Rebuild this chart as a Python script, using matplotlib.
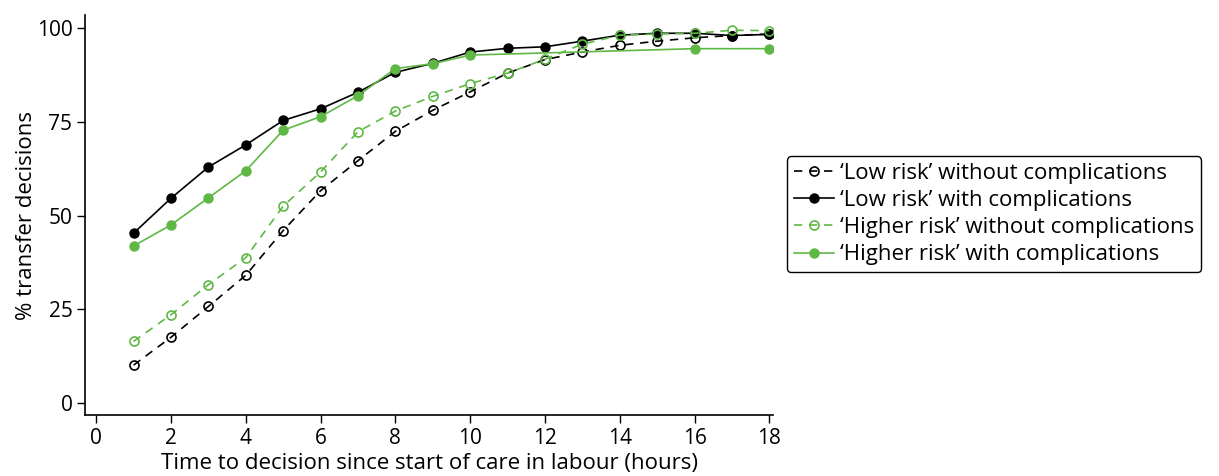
import matplotlib
matplotlib.use("Agg")
import matplotlib.pyplot as plt

hours = [1, 2, 3, 4, 5, 6, 7, 8, 9, 10, 11, 12, 13, 14, 15, 16, 17, 18]
low_without = [10.2, 17.6, 25.8, 34.1, 46.0, 56.6, 64.6, 72.4, 78.0, 82.9,
               87.9, 91.5, 93.5, 95.3, 96.4, 97.3, 97.9, 98.3]
low_with = [45.3, 54.6, 62.9, 68.8, 75.3, 78.4, 82.8, 88.1, 90.5, 93.5,
            94.5, 94.9, 96.4, 98.0, 98.5, 98.5, 97.9, 98.2]
high_without = [16.5, 23.6, 31.6, 38.8, 52.5, 61.6, 72.3, 77.8, 81.7, 85.1,
                87.9, 91.6, 95.6, 98.0, 98.3, 98.5, 99.3, 99.2]
hours_high_with = [1, 2, 3, 4, 5, 6, 7, 8, 9, 10, 16, 18]
high_with = [41.9, 47.5, 54.7, 61.9, 72.7, 76.3, 81.9, 89.1, 90.4, 92.7, 94.4, 94.4]

labels = ["\u2018Low risk\u2019 without complications",
          "\u2018Low risk\u2019 with complications",
          "\u2018Higher risk\u2019 without complications",
          "\u2018Higher risk\u2019 with complications"]
xticks = [0, 2, 4, 6, 8, 10, 12, 14, 16, 18]
yticks = [0, 25, 50, 75, 100]

green = "#5fb846"
plt.rcParams['font.family'] = ['Open Sans', 'DejaVu Sans']

fig = plt.figure(figsize=(12.19, 4.76), dpi=100)
ax = fig.add_axes([0.0697, 0.128, 0.5645, 0.840])

ms = 6.5
ax.plot(hours, low_without, color="black", ls=(0, (5, 4)), lw=1.2, marker="o",
        ms=ms, mfc="none", mec="black", mew=1.2, label=labels[0])
ax.plot(hours, low_with, color="black", ls="-", lw=1.2, marker="o",
        ms=ms, mfc="black", mec="black", label=labels[1])
ax.plot(hours, high_without, color=green, ls=(0, (5, 4)), lw=1.2, marker="o",
        ms=ms, mfc="none", mec=green, mew=1.2, label=labels[2])
ax.plot(hours_high_with, high_with, color=green, ls="-", lw=1.2, marker="o",
        ms=ms, mfc=green, mec=green, label=labels[3])

ax.set_xlim(-0.3, 18.1)
ax.set_ylim(-3.1, 103.3)
ax.set_xticks(xticks)
ax.set_yticks(yticks)
ax.tick_params(axis="both", direction="out", length=6, width=1, labelsize=15, pad=3)
for s in ["top", "right"]:
    ax.spines[s].set_visible(False)
for s in ["left", "bottom"]:
    ax.spines[s].set_linewidth(1.2)

ax.set_xlabel("Time to decision since start of care in labour (hours)", fontsize=16, labelpad=3)
ax.set_ylabel("% transfer decisions", fontsize=16, labelpad=0)

leg = ax.legend(loc="upper left", bbox_to_anchor=(0.6456, 0.672),
                bbox_transform=fig.transFigure, borderaxespad=0, fontsize=16,
                frameon=True, fancybox=True, edgecolor="black", handlelength=1.8,
                handletextpad=0.3, borderpad=0.3, labelspacing=0.28, framealpha=1)
leg.get_frame().set_linewidth(1.0)

fig.savefig("out.png", dpi=100)
